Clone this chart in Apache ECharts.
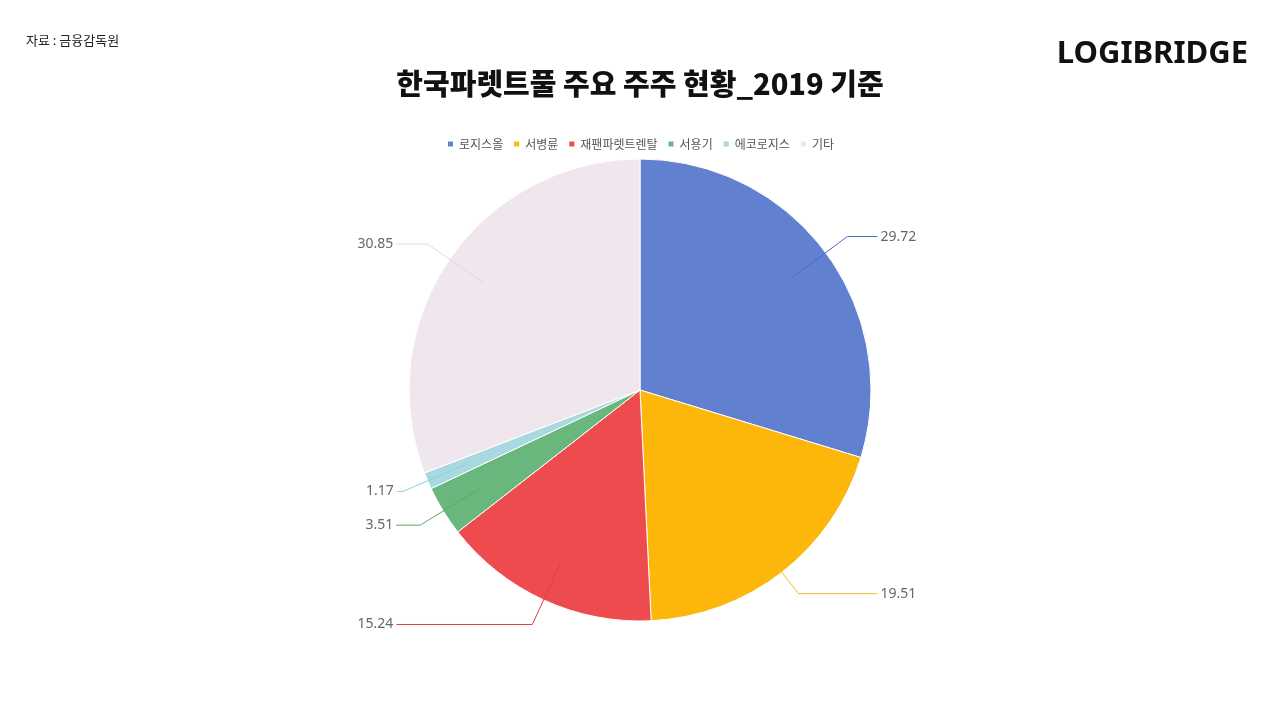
<!DOCTYPE html>
<html>
<head>
<meta charset="utf-8">
<script src="https://cdn.jsdelivr.net/npm/echarts@6/dist/echarts.min.js"></script>
<style>
  html, body { margin: 0; padding: 0; background: #fff; }
  #main { width: 1280px; height: 720px; }
</style>
</head>
<body>
<div id="main"></div>
<script>
// 주주 목록 / 지분율(%)
var holders = ['로지스올', '서병륜', '재팬파렛트렌탈', '서용기', '에코로지스', '기타'];
var shares = [29.72, 19.51, 15.24, 3.51, 1.17, 30.85];

var sliceColors = ['#6180d0', '#fdb70a', '#ee4b4e', '#6ab77d', '#a8d8e0', '#efe6ee'];
var lineColors = ['#4f6cc6', '#f5b82a', '#d94346', '#5aa86d', '#98ccd6', '#dddddd'];
// 라벨 선 두번째 구간 길이 (라벨 열 맞춤용)
var tailLens = [30, 79, 136, 24, 6, 31];

var chart = echarts.init(document.getElementById('main'));

// 라벨 전용 (안쪽에서 선이 시작되도록 반지름을 작게)
var labelData = holders.map(function (n, i) {
  return {
    name: n,
    value: shares[i],
    labelLine: { length2: tailLens[i], lineStyle: { color: lineColors[i] } }
  };
});
var pieData = holders.map(function (n, i) {
  return { name: n, value: shares[i] };
});

var option = {
  animation: false,
  color: sliceColors,
  title: [
    {
      text: '한국파렛트풀 주요 주주 현황_2019 기준',
      left: 'center',
      top: 64,
      textStyle: {
        fontFamily: 'Noto Sans CJK KR',
        fontWeight: 900,
        fontSize: 29,
        color: '#111'
      }
    },
    {
      text: '자료 : 금융감독원',
      left: 21,
      top: 29,
      textStyle: {
        fontFamily: 'Noto Sans CJK KR',
        fontWeight: 'normal',
        fontSize: 13,
        color: '#222'
      }
    },
    {
      text: 'LOGIBRIDGE',
      right: 27,
      top: 34,
      textStyle: {
        fontFamily: 'Noto Sans',
        fontWeight: 'bold',
        fontSize: 31,
        color: '#111'
      }
    }
  ],
  legend: {
    data: holders,
    top: 133,
    left: 'center',
    icon: 'rect',
    itemWidth: 7,
    itemHeight: 7,
    itemGap: 9,
    textStyle: {
      fontFamily: 'Noto Sans CJK KR',
      fontSize: 12,
      color: '#555'
    }
  },
  series: [
    {
      name: 'pie',
      type: 'pie',
      center: [640, 390],
      radius: 231,
      startAngle: 90,
      clockwise: true,
      z: 2,
      data: pieData,
      label: { show: false },
      labelLine: { show: false },
      itemStyle: { borderColor: '#fff', borderWidth: 1 },
      emphasis: { disabled: true }
    },
    {
      name: 'labels',
      type: 'pie',
      center: [640, 390],
      radius: 189,
      startAngle: 90,
      clockwise: true,
      z: 3,
      silent: true,
      legendHoverLink: false,
      data: labelData,
      itemStyle: { color: 'rgba(0,0,0,0)' },
      label: {
        show: true,
        formatter: '{c}',
        alignTo: 'none',
        distanceToLabelLine: 3,
        fontFamily: 'Noto Sans',
        fontSize: 14,
        color: '#666'
      },
      labelLine: {
        show: true,
        length: 69,
        lineStyle: { width: 1 }
      },
      emphasis: { disabled: true }
    }
  ]
};

chart.setOption(option);
</script>
</body>
</html>
